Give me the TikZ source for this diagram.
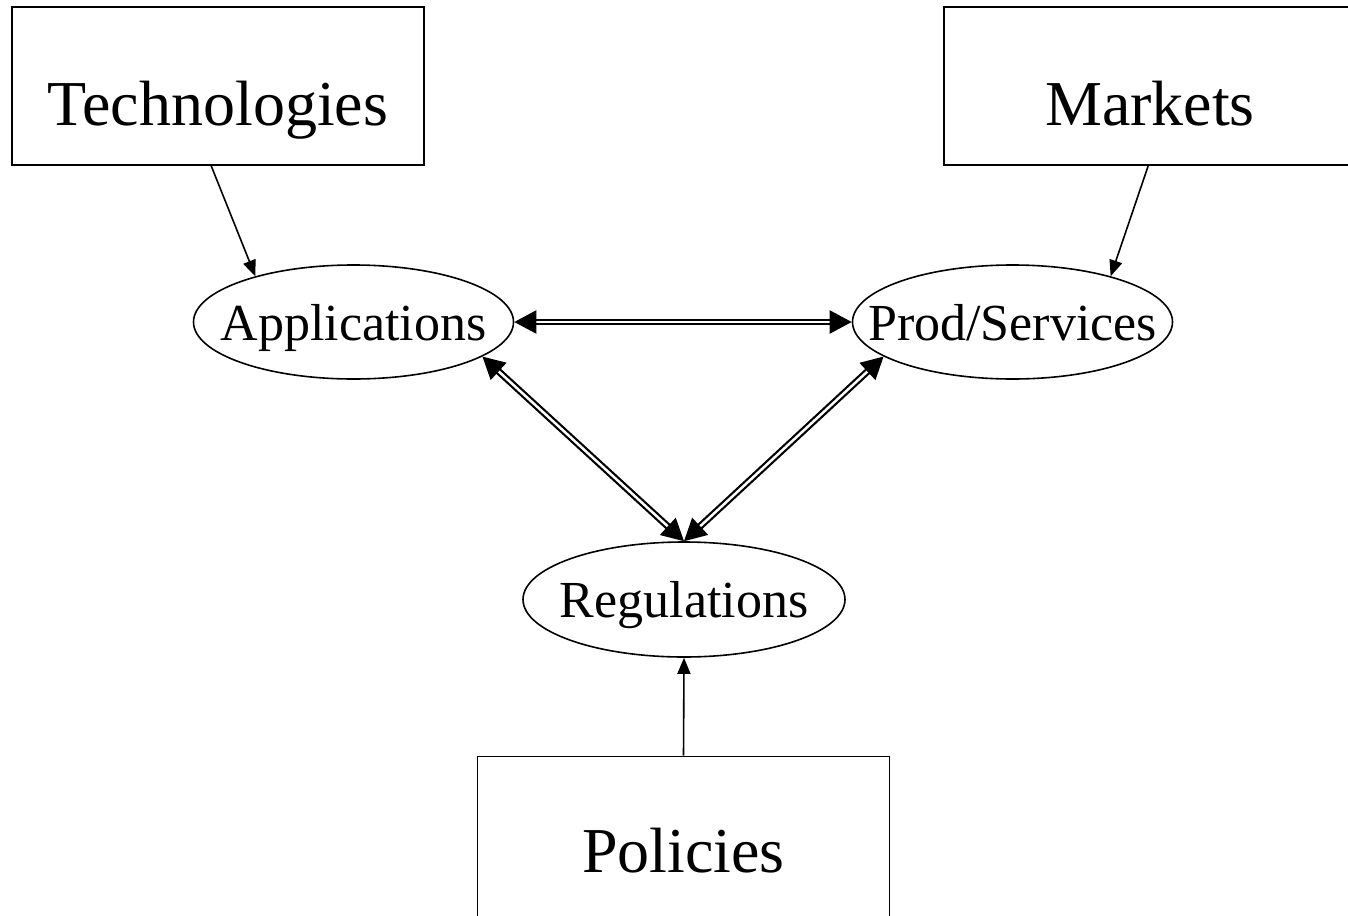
\documentclass[tikz,border=0pt]{standalone}
\usepackage{fontspec}
\setmainfont{Liberation Serif}
\usetikzlibrary{shapes.geometric,arrows.meta,calc}
\tikzset{
  bigbox/.style={draw, line width=1.6pt, rectangle, inner sep=0pt,
    minimum width=412pt, minimum height=158pt,
    font=\fontsize{64}{70}\selectfont, text height=80pt, text depth=2pt},
  oval/.style={draw, line width=1.6pt, ellipse, inner xsep=-50pt, inner ysep=0pt,
    minimum width=320pt, minimum height=114pt,
    font=\fontsize{52}{60}\selectfont, text height=38pt, text depth=2pt},
  link/.style={line width=1.6pt, -{Triangle[length=16pt,width=13pt]}},
  duo/.style={double, line width=2.2pt, double distance=2.5pt,
    {Triangle[length=22pt,width=23pt]}-{Triangle[length=22pt,width=23pt]}}
}
\begin{document}
\begin{tikzpicture}[x=1pt,y=-1pt]
\useasboundingbox (0,0) rectangle (1348,915);
\node[bigbox] (tech) at (218,86) {Technologies};
\node[bigbox] (mark) at (1150,86) {Markets};
\node[bigbox, minimum height=160pt, text depth=8pt] (pol) at (683.5,836.5) {Policies};
\node[oval] (app) at (353.5,322) {Applications};
\node[oval] (prod) at (1012.5,322) {Prod/Services};
\node[oval, minimum width=322pt, minimum height=115pt] (reg) at (684,599.5) {Regulations};
\draw[link] ($(tech.south west)+(200,0)$) -- (app.155);
\draw[link] ($(mark.south west)+(205,0)$) -- (prod.25);
\draw[link] (pol.north) -- (reg.south);
\draw[duo] (app.east) -- (prod.west);
\draw[duo] (app.345) -- (reg.north);
\draw[duo] (prod.195) -- (reg.north);
\end{tikzpicture}
\end{document}
